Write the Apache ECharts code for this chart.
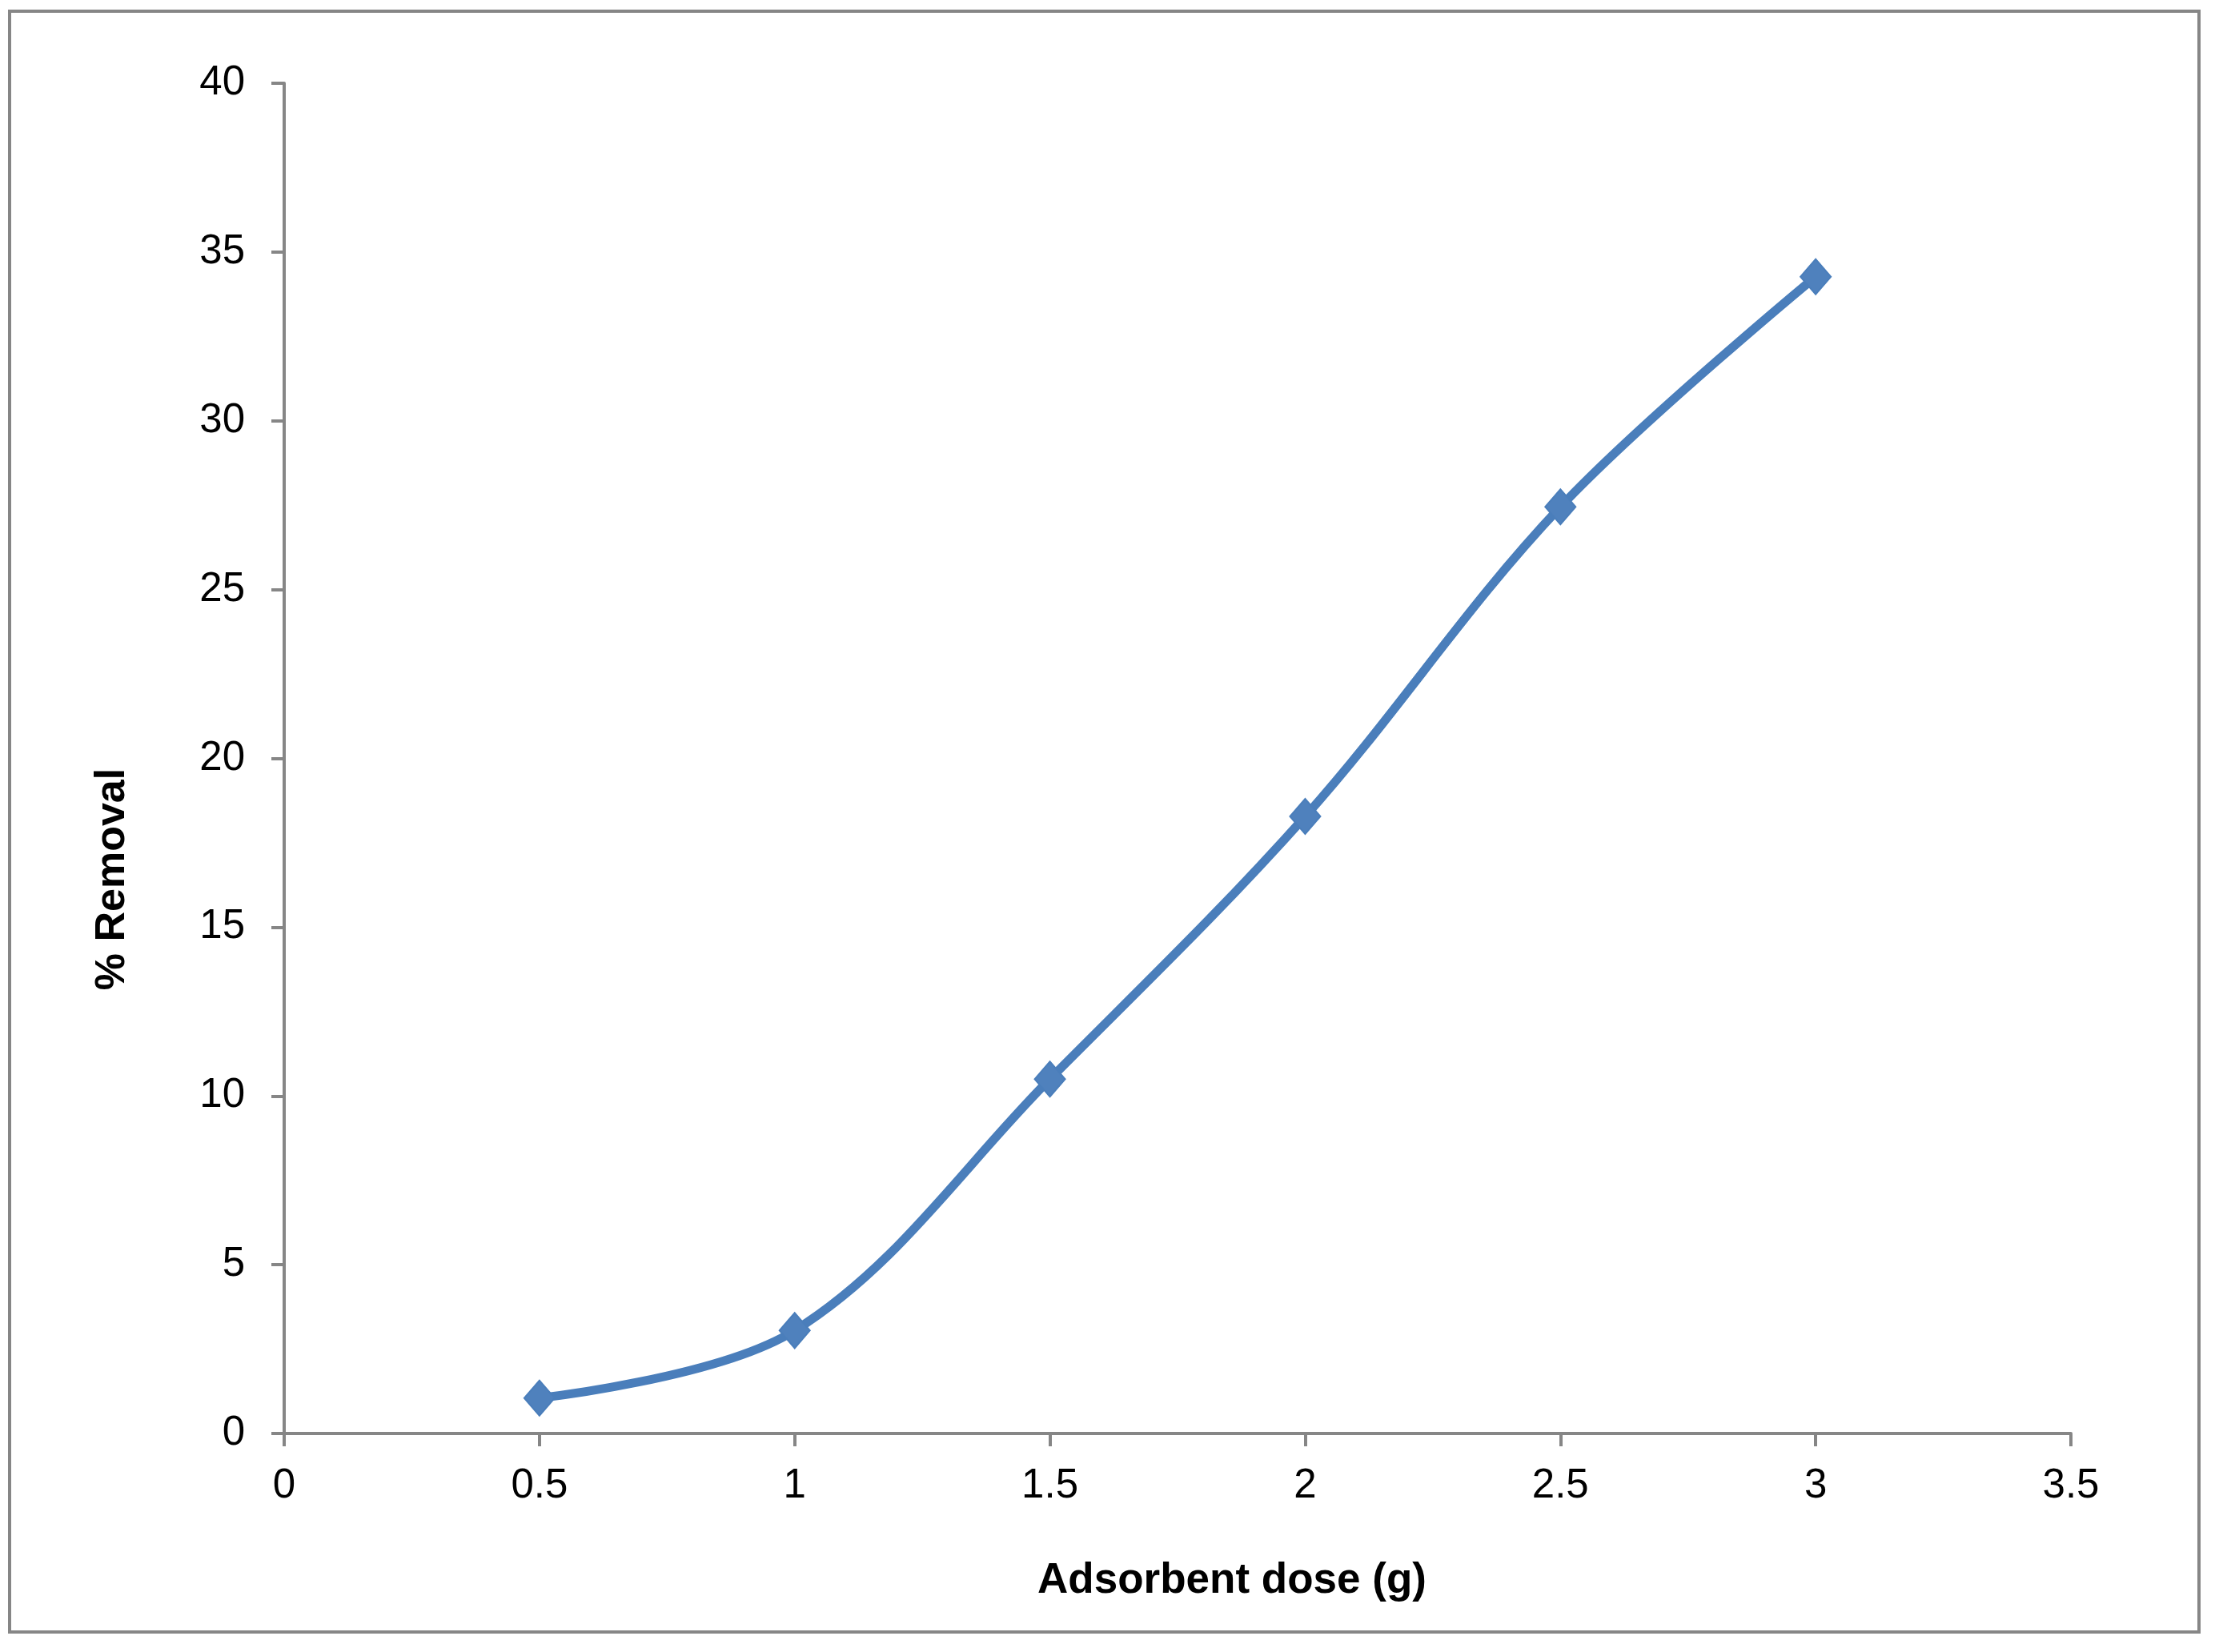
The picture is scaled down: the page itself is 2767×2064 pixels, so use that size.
<!DOCTYPE html>
<html>
<head>
<meta charset="utf-8">
<script src="https://cdn.jsdelivr.net/npm/echarts@6/dist/echarts.min.js"></script>
<style>
  html, body { margin: 0; padding: 0; background: #ffffff; }
  #chart { width: 2767px; height: 2064px; }
</style>
</head>
<body>
<div id="chart"></div>
<script>
// data
var doses = [0.5, 1, 1.5, 2, 2.5, 3]
var removal = [1.05, 3.05, 10.5, 18.28, 27.45, 34.27]
var xTicks = [0, 0.5, 1, 1.5, 2, 2.5, 3, 3.5]
var yTicks = [0, 5, 10, 15, 20, 25, 30, 35, 40]

var axisGrey = '#868686'
var lineBlue = '#4a7ebb'
var fontFamily = 'Liberation Sans, Arial, sans-serif'

var chart = echarts.init(document.getElementById('chart'))

var points = doses.map(function (d, i) { return [d, removal[i]] })

var options = {
  backgroundColor: '#ffffff',
  animation: false,
  graphic: [
    {
      type: 'rect',
      shape: { x: 12, y: 14, width: 2735, height: 2025 },
      style: { fill: 'none', stroke: axisGrey, lineWidth: 4 }
    }
  ],
  grid: {
    left: 355,
    right: 180,
    top: 104,
    bottom: 273
  },
  xAxis: {
    type: 'value',
    min: xTicks[0],
    max: xTicks[xTicks.length - 1],
    interval: 0.5,
    name: 'Adsorbent dose (g)',
    nameLocation: 'middle',
    nameGap: 158,
    nameTextStyle: {
      color: '#000',
      fontSize: 53,
      fontWeight: 'bold',
      fontFamily: fontFamily,
      padding: [0, 0, 0, 136]
    },
    axisLine: { show: true, lineStyle: { color: axisGrey, width: 4 } },
    axisTick: { show: true, inside: false, length: 16, lineStyle: { color: axisGrey, width: 4 } },
    axisLabel: {
      color: '#000',
      fontSize: 51,
      fontFamily: fontFamily,
      margin: 40
    },
    splitLine: { show: false }
  },
  yAxis: {
    type: 'value',
    min: yTicks[0],
    max: yTicks[yTicks.length - 1],
    interval: 5,
    name: '% Removal',
    nameLocation: 'middle',
    nameGap: 188,
    nameRotate: 90,
    nameTextStyle: {
      color: '#000',
      fontSize: 52,
      fontWeight: 'bold',
      fontFamily: fontFamily,
      padding: [0, 302, 0, 0]
    },
    axisLine: { show: true, lineStyle: { color: axisGrey, width: 4 } },
    axisTick: { show: true, inside: false, length: 16, lineStyle: { color: axisGrey, width: 4 } },
    axisLabel: {
      color: '#000',
      fontSize: 51,
      fontFamily: fontFamily,
      margin: 49
    },
    splitLine: { show: false }
  },
  series: [
    {
      name: '% Removal',
      type: 'line',
      data: points,
      smooth: 0.35,
      symbol: 'diamond',
      symbolSize: [38, 44],
      lineStyle: { width: 11, color: lineBlue },
      itemStyle: { color: '#4f81bd', borderColor: lineBlue, borderWidth: 2 }
    }
  ]
}

chart.setOption(options)
</script>
</body>
</html>
